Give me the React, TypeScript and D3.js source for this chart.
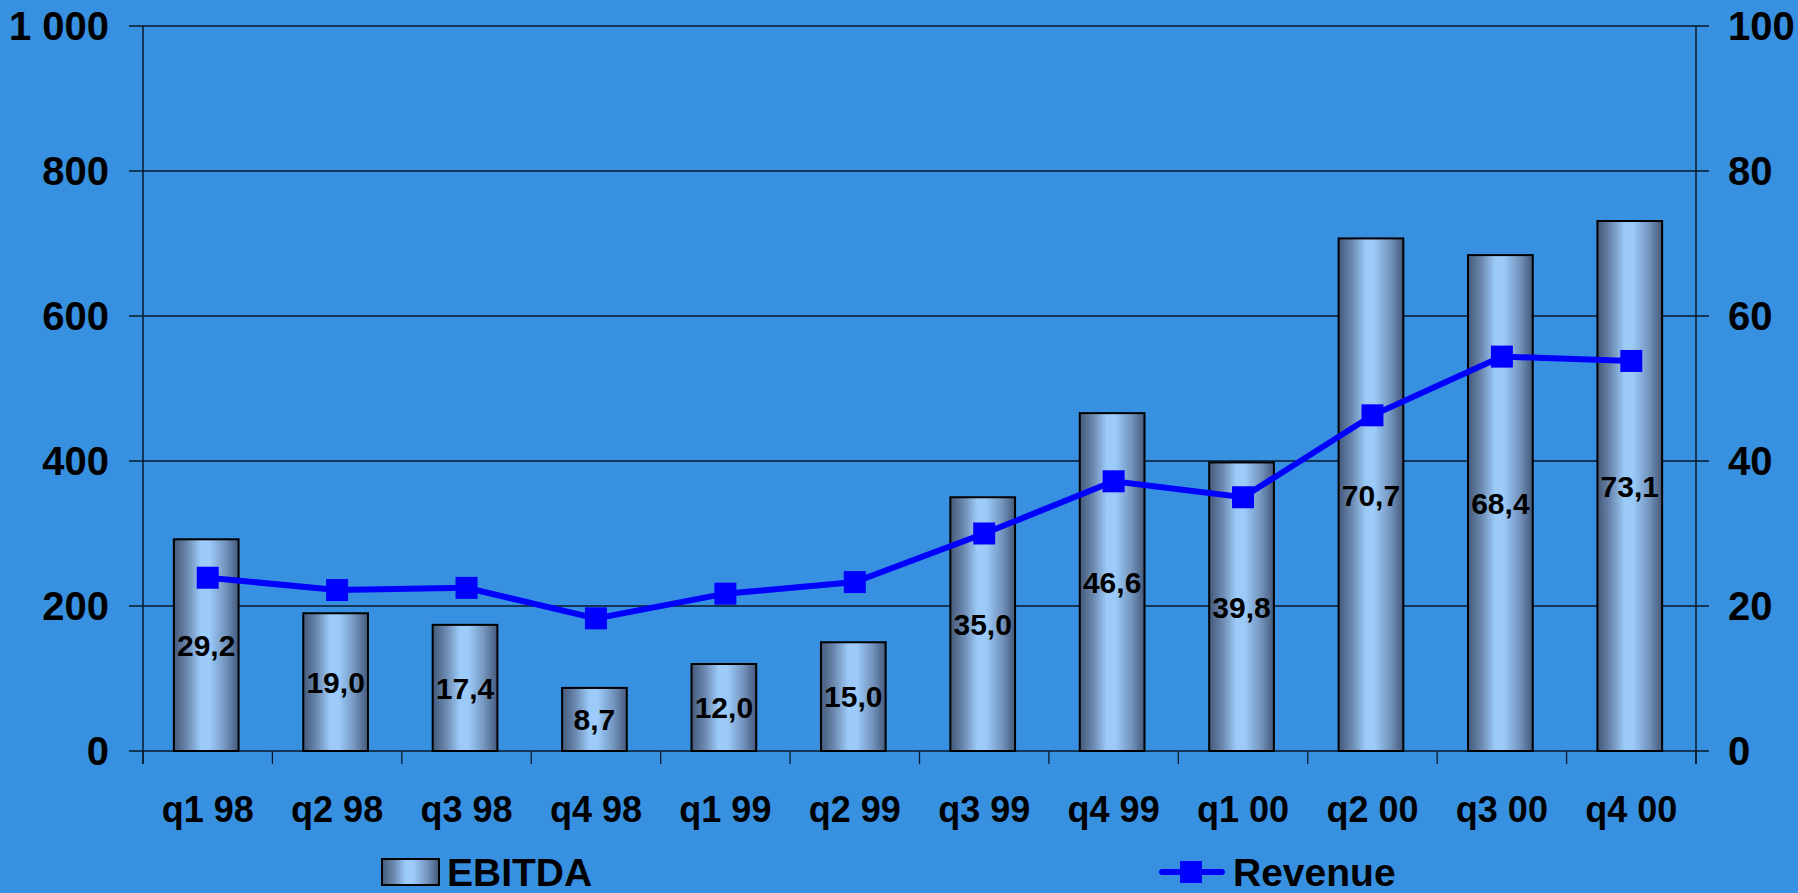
import React from "react";
import * as d3 from "d3";

const categories = ["q1 98","q2 98","q3 98","q4 98","q1 99","q2 99","q3 99","q4 99","q1 00","q2 00","q3 00","q4 00"];
const ebitda = [292,190,174,87,120,150,350,466,398,707,684,731];
const ebitdaLabels = ["29,2","19,0","17,4","8,7","12,0","15,0","35,0","46,6","39,8","70,7","68,4","73,1"];
const revenue = [23.9,22.2,22.5,18.3,21.7,23.3,30.0,37.2,35.0,46.3,54.4,53.8];
const leftTicks = [0,200,400,600,800,1000];
const rightTicks = [0,20,40,60,80,100];

const W = 1798, H = 893;
const L = 143, R = 1696, T = 26, B = 751;
const FONT = "'Liberation Sans', Arial, sans-serif";

export default function App() {
  const x = d3.scaleBand<string>().domain(categories).range([L, R]).padding(0);
  const yL = d3.scaleLinear().domain([0, 1000]).range([B, T]);
  const yR = d3.scaleLinear().domain([0, 100]).range([B, T]);
  const bw = x.bandwidth() * 0.5;
  const cx = (c: string) => (x(c) as number) + x.bandwidth() / 2;
  const line = d3.line<number>().x((_, i) => cx(categories[i])).y((d) => yR(d));
  const fmt = (v: number) => d3.format(",")(v).replace(/,/g, " ");
  const ms = 22;
  const bounds = [...categories.map((c) => x(c) as number), R];

  return (
    <svg width={W} height={H} style={{ position: "absolute", left: 0, top: 0, display: "block" }} fontFamily={FONT}>
      <defs>
        <linearGradient id="cyl" x1="0" x2="1" y1="0" y2="0">
          <stop offset="0%" stopColor="#44597a" />
          <stop offset="20%" stopColor="#6a87ad" />
          <stop offset="42%" stopColor="#9ccbfa" />
          <stop offset="55%" stopColor="#9ccbfa" />
          <stop offset="80%" stopColor="#7394bd" />
          <stop offset="100%" stopColor="#44597a" />
        </linearGradient>
      </defs>
      <rect x={0} y={0} width={W} height={H} fill="#3890e0" />
      {leftTicks.map((t) => (
        <line key={"g" + t} x1={L - 14} x2={R + 13} y1={yL(t)} y2={yL(t)} stroke="#0a1a2a" strokeWidth={1.3} />
      ))}
      <line x1={L} x2={L} y1={T} y2={B + 13} stroke="#0a1a2a" strokeWidth={1.5} />
      <line x1={R} x2={R} y1={T} y2={B + 13} stroke="#0a1a2a" strokeWidth={1.5} />
      {bounds.map((b, i) => (
        <line key={"t" + i} x1={b} x2={b} y1={B} y2={B + 13} stroke="#0a1a2a" strokeWidth={1.3} />
      ))}
      {categories.map((c, i) => (
        <rect key={"b" + c} x={cx(c) - bw / 2 - 1.5} y={yL(ebitda[i])} width={bw} height={B - yL(ebitda[i])}
          fill="url(#cyl)" stroke="#000" strokeWidth={2} />
      ))}
      {categories.map((c, i) => (
        <text key={"bl" + c} x={cx(c) - 1.5} y={(yL(ebitda[i]) + B) / 2} dy="0.36em" textAnchor="middle"
          fontSize={30} fontWeight="bold" fill="#000">{ebitdaLabels[i]}</text>
      ))}
      <path d={line(revenue) || ""} fill="none" stroke="#0000ff" strokeWidth={6} />
      {categories.map((c, i) => (
        <rect key={"m" + c} x={cx(c) - ms / 2} y={yR(revenue[i]) - ms / 2} width={ms} height={ms} fill="#0000ff" />
      ))}
      {leftTicks.map((t) => (
        <text key={"ll" + t} x={109} y={yL(t)} dy="0.36em" textAnchor="end" fontSize={40} fontWeight="bold" fill="#000">{fmt(t)}</text>
      ))}
      {rightTicks.map((t) => (
        <text key={"rl" + t} x={1728} y={yR(t)} dy="0.36em" textAnchor="start" fontSize={40} fontWeight="bold" fill="#000">{t}</text>
      ))}
      {categories.map((c) => (
        <text key={"cl" + c} x={cx(c)} y={822} textAnchor="middle" fontSize={36} fontWeight="bold" fill="#000">{c}</text>
      ))}
      <rect x={382} y={859} width={57} height={26} fill="url(#cyl)" stroke="#000" strokeWidth={2} />
      <text x={447} y={886} fontSize={39} fontWeight="bold" fill="#000">EBITDA</text>
      <line x1={1162} x2={1222} y1={872} y2={872} stroke="#0000ff" strokeWidth={6} strokeLinecap="round" />
      <rect x={1180} y={861} width={22} height={22} fill="#0000ff" />
      <text x={1233} y={886} fontSize={39} fontWeight="bold" fill="#000">Revenue</text>
    </svg>
  );
}
